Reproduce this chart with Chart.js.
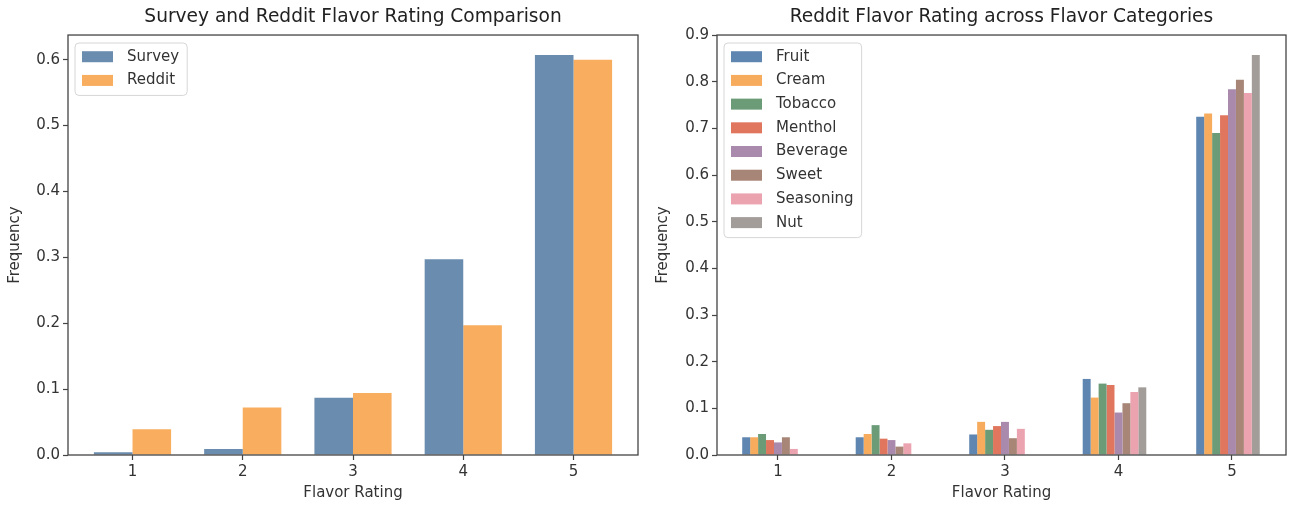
<!DOCTYPE html>
<html>
<head>
<meta charset="utf-8">
<script src="https://cdn.jsdelivr.net/npm/chart.js@4.4.0/dist/chart.umd.min.js"></script>
<style>
  body { margin: 0; background: #fff; }
  #left, #right { position: absolute; top: 0; }
  #left { left: 0; }
  #right { left: 645px; }
</style>
</head>
<body>
<canvas id="left" width="645" height="505"></canvas>
<canvas id="right" width="644" height="505"></canvas>
<script>
// flavor ratings 1..5
const ratings = [1, 2, 3, 4, 5];

// left chart: survey vs reddit
const surveyFreq = [0.004, 0.009, 0.087, 0.297, 0.607];
const redditFreq = [0.039, 0.072, 0.094, 0.197, 0.600];

// right chart: reddit rating per flavor category
const flavorNames = ['Fruit', 'Cream', 'Tobacco', 'Menthol', 'Beverage', 'Sweet', 'Seasoning', 'Nut'];
const fruitFreq     = [0.038, 0.038, 0.044, 0.163, 0.725];
const creamFreq     = [0.038, 0.045, 0.071, 0.123, 0.732];
const tobaccoFreq   = [0.045, 0.064, 0.054, 0.153, 0.690];
const mentholFreq   = [0.032, 0.035, 0.062, 0.150, 0.728];
const beverageFreq  = [0.027, 0.032, 0.071, 0.091, 0.784];
const sweetFreq     = [0.038, 0.018, 0.036, 0.111, 0.804];
const seasoningFreq = [0.013, 0.025, 0.056, 0.135, 0.776];
const nutFreq       = [0, 0, 0, 0.145, 0.857];
const flavorFreqs = [fruitFreq, creamFreq, tobaccoFreq, mentholFreq, beverageFreq, sweetFreq, seasoningFreq, nutFreq];
const flavorColors = ['#5f86b1', '#f7ab5c', '#6c9b78', '#e0765e', '#a98aad', '#a78677', '#eba3b0', '#a39d9a'];

const FONT = '"DejaVu Sans", sans-serif';
const INK = '#333';

// box round the plot area, like matplotlib spines
const framePlugin = {
  id: 'frame',
  afterDatasetsDraw(chart) {
    const a = chart.chartArea, ctx = chart.ctx;
    ctx.save();
    ctx.strokeStyle = '#444';
    ctx.lineWidth = 1.3;
    ctx.strokeRect(a.left, a.top, a.right - a.left, a.bottom - a.top);
    ctx.restore();
  }
};

// legend drawn inside the plot, top left
const boxLegend = {
  id: 'boxLegend',
  afterDatasetsDraw(chart) {
    const a = chart.chartArea, ctx = chart.ctx;
    const items = chart.data.datasets.filter(d => !d.spacer);
    ctx.save();
    ctx.font = '15px ' + FONT;
    const textW = Math.max.apply(null, items.map(d => ctx.measureText(d.label).width));
    const bx = a.left + 7, by = a.top + 8;
    const textX = a.left + 59;
    const step = 23.7;
    const firstY = a.top + 21.7;
    const bw = textX + textW + 8 - bx;
    const bh = (firstY - by) + (items.length - 1) * step + 15;
    ctx.beginPath();
    ctx.roundRect(bx, by, bw, bh, 4);
    ctx.fillStyle = 'rgba(255,255,255,0.85)';
    ctx.fill();
    ctx.strokeStyle = '#d6d6d6';
    ctx.lineWidth = 1;
    ctx.stroke();
    items.forEach((d, i) => {
      const cy = firstY + i * step;
      ctx.fillStyle = d.backgroundColor;
      ctx.fillRect(a.left + 14, cy - 5.5, 31, 11);
      ctx.fillStyle = INK;
      ctx.textBaseline = 'middle';
      ctx.textAlign = 'left';
      ctx.fillText(d.label, textX, cy);
    });
    ctx.restore();
  }
};

function makeOptions(title, xMin, xMax, yMax, yAxisWidth, yTitlePad, padRight) {
  return {
    responsive: false,
    animation: false,
    layout: { padding: { left: 0, right: padRight, top: 0, bottom: 0 } },
    plugins: {
      legend: { display: false },
      tooltip: { enabled: false },
      title: {
        display: true,
        text: title,
        fullSize: false,
        color: '#222',
        font: { family: FONT, size: 18.6, weight: 'normal' },
        padding: { top: 5.8, bottom: 6.9 }
      }
    },
    scales: {
      x: {
        type: 'linear',
        min: xMin,
        max: xMax,
        offset: false,
        afterFit(scale) { scale.height = 50; },
        ticks: {
          stepSize: 1,
          includeBounds: false,
          color: INK,
          padding: 3,
          font: { family: FONT, size: 15 },
          callback: v => String(v)
        },
        grid: { offset: false, drawOnChartArea: false, drawTicks: true, tickLength: 5, tickColor: '#444', tickWidth: 1.2 },
        border: { display: false },
        title: {
          display: true,
          text: 'Flavor Rating',
          color: INK,
          font: { family: FONT, size: 15 },
          padding: { top: 0, bottom: 3 }
        }
      },
      y: {
        min: 0,
        max: yMax,
        afterFit(scale) { scale.width = yAxisWidth; },
        ticks: {
          stepSize: 0.1,
          includeBounds: false,
          color: INK,
          padding: 3,
          font: { family: FONT, size: 15 },
          callback: v => v.toFixed(1)
        },
        grid: { drawOnChartArea: false, drawTicks: true, tickLength: 5, tickColor: '#444', tickWidth: 1.2 },
        border: { display: false },
        title: {
          display: true,
          text: 'Frequency',
          color: INK,
          font: { family: FONT, size: 15 },
          padding: { top: yTitlePad, bottom: 0 }
        }
      }
    }
  };
}

new Chart(document.getElementById('left'), {
  type: 'bar',
  data: {
    labels: ratings,
    datasets: [
      { label: 'Survey', data: surveyFreq, backgroundColor: '#6a8cae', borderWidth: 0, categoryPercentage: 0.7, barPercentage: 1 },
      { label: 'Reddit', data: redditFreq, backgroundColor: '#f8ad5f', borderWidth: 0, categoryPercentage: 0.7, barPercentage: 1 }
    ]
  },
  options: makeOptions('Survey and Reddit Flavor Rating Comparison', 0.415, 5.585, 0.6374, 68, 6, 7),
  plugins: [framePlugin, boxLegend]
});

// 8 flavor bars plus an empty slot, so the tick sits under the 5th bar as in the source plot
const flavorSets = flavorNames.map((name, i) => ({
  label: name,
  data: flavorFreqs[i],
  backgroundColor: flavorColors[i],
  borderWidth: 0,
  categoryPercentage: 0.63,
  barPercentage: 1
}));
flavorSets.push({
  label: '',
  spacer: true,
  data: ratings.map(() => null),
  backgroundColor: 'rgba(0,0,0,0)',
  borderWidth: 0,
  categoryPercentage: 0.63,
  barPercentage: 1
});

new Chart(document.getElementById('right'), {
  type: 'bar',
  data: { labels: ratings, datasets: flavorSets },
  options: makeOptions('Reddit Flavor Rating across Flavor Categories', 0.463, 5.476, 0.9, 72, 9, 3),
  plugins: [framePlugin, boxLegend]
});
</script>
</body>
</html>
